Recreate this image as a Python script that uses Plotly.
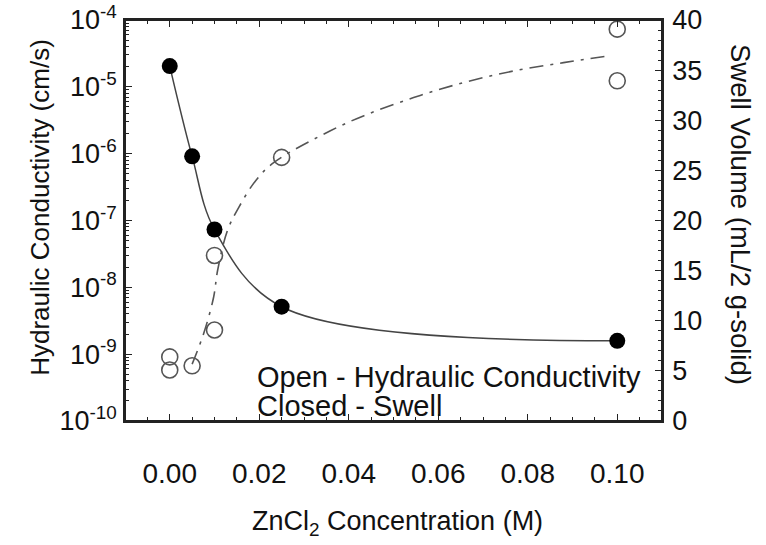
import plotly.graph_objects as go

# ---- data ----
# Closed symbols: swell volume (right axis)
swell_x = [0.0, 0.005, 0.01, 0.025, 0.10]
swell_y = [35.4, 26.4, 19.1, 11.4, 8.0]

# Open symbols: hydraulic conductivity (left, log axis)
hc_x = [0.0, 0.0, 0.005, 0.01, 0.01, 0.025, 0.10, 0.10]
hc_y = [9.1e-10, 5.8e-10, 6.7e-10, 3.0e-8, 2.3e-9, 8.8e-7, 7.3e-5, 1.23e-5]

# Dash-dot fitted curve for hydraulic conductivity
hc_fit_x = [0.005, 0.0076, 0.0098, 0.0107, 0.0129, 0.0154, 0.0192, 0.0233,
            0.0359, 0.0434, 0.0545, 0.0657, 0.0769, 0.088, 0.098]
hc_fit_y = [7.1e-10, 2.06e-9, 7.1e-9, 1.8e-8, 7.1e-8, 1.56e-7, 3.95e-7, 7.4e-7,
            2.2e-6, 3.7e-6, 6.9e-6, 1.16e-5, 1.73e-5, 2.3e-5, 2.9e-5]

x_ticks = [0.0, 0.02, 0.04, 0.06, 0.08, 0.10]
x_ticktext = ["0.00", "0.02", "0.04", "0.06", "0.08", "0.10"]
log_exponents = [-10, -9, -8, -7, -6, -5, -4]
swell_ticks = [0, 5, 10, 15, 20, 25, 30, 35, 40]

FONT = "Liberation Sans, Arial, Helvetica, sans-serif"
AX = "#222222"
X_RANGE = [-0.01, 0.11]

fig = go.Figure()

fig.add_trace(go.Scatter(
    x=hc_fit_x, y=hc_fit_y, mode="lines", xaxis="x2", yaxis="y",
    line=dict(color="#555555", width=1.6, dash="14px,7px,3px,7px", shape="spline"),
    showlegend=False, hoverinfo="skip"))

fig.add_trace(go.Scatter(
    x=swell_x, y=swell_y, mode="lines+markers", yaxis="y2",
    line=dict(color="#444444", width=1.5, shape="spline", smoothing=1.0),
    marker=dict(symbol="circle", size=16, color="black"),
    showlegend=False))

fig.add_trace(go.Scatter(
    x=hc_x, y=hc_y, mode="markers", yaxis="y",
    marker=dict(symbol="circle-open", size=16, color="#555555",
                line=dict(width=1.6, color="#555555")),
    showlegend=False))

minor_log = [m * 10.0 ** e for e in range(-10, -4) for m in range(2, 10)]

fig.update_layout(
    width=766, height=545,
    margin=dict(l=125, r=104, t=20, b=124, autoexpand=False),
    paper_bgcolor="white", plot_bgcolor="white",
    font=dict(family=FONT, size=26, color="#111111"),
    xaxis=dict(
        range=X_RANGE, tickmode="array", tickvals=x_ticks, ticktext=x_ticktext,
        ticks="inside", ticklen=7, tickwidth=1.2, tickcolor=AX,
        minor=dict(dtick=0.005, tick0=0, ticks="inside", ticklen=4, tickcolor=AX, tickwidth=1),
        showline=True, linecolor=AX, linewidth=1.5,
        showgrid=False, zeroline=False, ticklabelstandoff=27, automargin=False,
        ticklabeloverflow="allow", tickfont=dict(size=28)),
    xaxis2=dict(
        range=X_RANGE, overlaying="x", side="top", anchor="y",
        tickmode="array", tickvals=x_ticks, showticklabels=False,
        ticks="inside", ticklen=7, tickwidth=1.2, tickcolor=AX,
        minor=dict(dtick=0.005, tick0=0, ticks="inside", ticklen=4, tickcolor=AX, tickwidth=1),
        showline=True, linecolor=AX, linewidth=2,
        showgrid=False, zeroline=False, automargin=False),
    yaxis=dict(
        type="log", range=[-10, -4], tickmode="array",
        tickvals=[10.0 ** e for e in log_exponents],
        ticktext=["10<sup>%d</sup>" % e for e in log_exponents],
        ticks="inside", ticklen=7, tickwidth=1.2, tickcolor=AX,
        minor=dict(tickmode="array", tickvals=minor_log, ticks="inside", ticklen=4,
                   tickcolor=AX, tickwidth=1),
        showline=True, linecolor=AX, linewidth=1.5, automargin=False,
        showgrid=False, zeroline=False, ticklabelstandoff=1,
        ticklabeloverflow="allow", tickfont=dict(size=27)),
    yaxis2=dict(
        overlaying="y", side="right", range=[0, 40], tickmode="array",
        tickvals=swell_ticks, ticks="inside", ticklen=7, tickwidth=1.2, tickcolor=AX,
        minor=dict(dtick=1, tick0=0, ticks="inside", ticklen=4, tickcolor=AX, tickwidth=1),
        showline=True, linecolor=AX, linewidth=1.5, automargin=False,
        showgrid=False, zeroline=False, ticklabelstandoff=3,
        ticklabeloverflow="allow", tickfont=dict(size=27)),
    shapes=[dict(type="rect", xref="paper", yref="paper", x0=0, x1=1, y0=0, y1=1,
                 line=dict(color=AX, width=2), fillcolor="rgba(0,0,0,0)", layer="above")],
    annotations=[
        dict(text="ZnCl<sub>2</sub> Concentration (M)", xref="paper", yref="paper",
             x=0.508, y=-0.254, xanchor="center", yanchor="middle", showarrow=False,
             font=dict(size=27)),
        dict(text="Hydraulic Conductivity (cm/s)", xref="paper", yref="paper",
             x=-0.158, y=0.532, xanchor="center", yanchor="middle", textangle=-90,
             showarrow=False, font=dict(size=26)),
        dict(text="Swell Volume (mL/2 g-solid)", xref="paper", yref="paper",
             x=1.145, y=0.514, xanchor="center", yanchor="middle", textangle=90,
             showarrow=False, font=dict(size=27.5)),
        dict(text="Open - Hydraulic Conductivity", xref="paper", yref="paper",
             x=0.242, y=0.109, xanchor="left", yanchor="middle", showarrow=False,
             font=dict(size=29)),
        dict(text="Closed - Swell", xref="paper", yref="paper",
             x=0.242, y=0.037, xanchor="left", yanchor="middle", showarrow=False,
             font=dict(size=29)),
    ],
)

fig.write_html("out.html", config={"displayModeBar": False},
               post_script="document.body.style.margin='0';document.body.style.overflow='hidden';")
